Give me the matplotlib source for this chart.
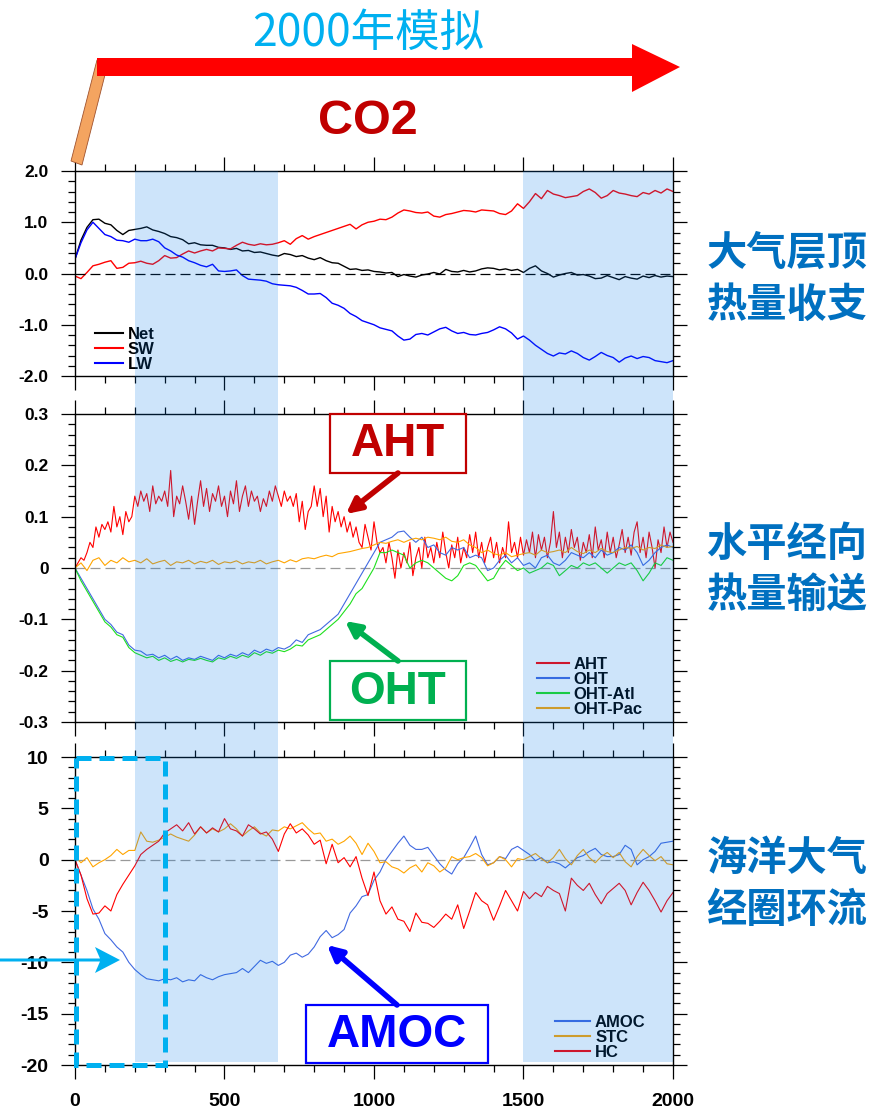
import numpy as np
import matplotlib
matplotlib.use('Agg')
import matplotlib.pyplot as plt
from matplotlib.patches import Rectangle, Polygon
from matplotlib.ticker import MultipleLocator

plt.rcParams['font.family'] = ['Liberation Sans', 'DejaVu Sans']

# %%
# Data (20-year steps, AHT in 10-year steps)
# --------------------------------------------------------------
yr20 = np.arange(0, 2001, 20)
yr10 = np.arange(0, 2001, 10)

net = [0.28, 0.65, 0.90, 1.05, 1.06, 0.98, 0.95, 0.84, 0.76, 0.84,
       0.86, 0.88, 0.91, 0.85, 0.82, 0.78, 0.72, 0.70, 0.66, 0.58,
       0.60, 0.56, 0.55, 0.55, 0.51, 0.50, 0.47, 0.49, 0.44, 0.45,
       0.41, 0.42, 0.39, 0.36, 0.34, 0.39, 0.37, 0.33, 0.35, 0.30,
       0.27, 0.31, 0.25, 0.21, 0.20, 0.14, 0.08, 0.09, 0.06, 0.07,
       0.04, 0.03, 0.01, 0.02, -0.06, -0.02, -0.05, -0.07, -0.03, -0.01,
       0.02, -0.01, 0.08, 0.04, 0.03, 0.06, 0.03, 0.05, 0.09, 0.11,
       0.10, 0.07, 0.09, 0.06, 0.08, 0.02, 0.10, 0.15, 0.05, 0.00,
       -0.07, -0.03, 0.00, 0.02, -0.03, -0.02, -0.05, -0.10, -0.09, -0.04,
       -0.08, -0.12, -0.06, -0.09, -0.11, -0.05, -0.08, -0.04, -0.07, -0.05,
       -0.06]
sw = [-0.05, -0.10, 0.02, 0.15, 0.18, 0.22, 0.25, 0.10, 0.12, 0.20,
      0.21, 0.24, 0.20, 0.18, 0.25, 0.35, 0.30, 0.31, 0.38, 0.44,
      0.40, 0.44, 0.47, 0.44, 0.50, 0.49, 0.48, 0.55, 0.61, 0.57,
      0.55, 0.58, 0.56, 0.57, 0.60, 0.64, 0.57, 0.68, 0.74, 0.67,
      0.72, 0.76, 0.80, 0.84, 0.88, 0.92, 0.96, 0.87, 0.95, 1.00,
      1.02, 1.06, 1.05, 1.10, 1.18, 1.24, 1.22, 1.19, 1.18, 1.20,
      1.12, 1.10, 1.15, 1.17, 1.20, 1.23, 1.22, 1.20, 1.24, 1.23,
      1.22, 1.17, 1.15, 1.22, 1.36, 1.27, 1.40, 1.56, 1.46, 1.62,
      1.55, 1.52, 1.48, 1.50, 1.52, 1.60, 1.65, 1.58, 1.47, 1.52,
      1.62, 1.57, 1.55, 1.52, 1.50, 1.58, 1.55, 1.62, 1.57, 1.65,
      1.60]
lw_flux = [0.28, 0.60, 0.85, 1.00, 0.88, 0.76, 0.72, 0.65, 0.64, 0.61,
           0.67, 0.64, 0.64, 0.67, 0.62, 0.50, 0.44, 0.36, 0.32, 0.25,
           0.21, 0.16, 0.13, 0.18, 0.05, 0.04, 0.05, 0.07, -0.04, -0.11,
           -0.12, -0.13, -0.15, -0.20, -0.22, -0.23, -0.24, -0.27, -0.33, -0.40,
           -0.40, -0.39, -0.47, -0.58, -0.62, -0.68, -0.78, -0.84, -0.92, -0.96,
           -1.00, -1.06, -1.09, -1.12, -1.22, -1.30, -1.28, -1.19, -1.17, -1.20,
           -1.14, -1.08, -1.05, -1.12, -1.17, -1.15, -1.19, -1.20, -1.17, -1.15,
           -1.10, -1.04, -1.08, -1.16, -1.28, -1.22, -1.30, -1.40, -1.48, -1.56,
           -1.61, -1.55, -1.57, -1.51, -1.56, -1.64, -1.69, -1.62, -1.54, -1.60,
           -1.64, -1.73, -1.65, -1.61, -1.66, -1.62, -1.64, -1.70, -1.72, -1.74,
           -1.70]

aht = [0.0, 0.01, 0.02, 0.015, 0.03, 0.05, 0.04, 0.08, 0.06, 0.085,
       0.075, 0.09, 0.07, 0.12, 0.08, 0.10, 0.065, 0.11, 0.09, 0.10,
       0.14, 0.12, 0.15, 0.13, 0.145, 0.11, 0.16, 0.125, 0.14, 0.13,
       0.15, 0.12, 0.19, 0.10, 0.14, 0.125, 0.16, 0.13, 0.095, 0.14,
       0.085, 0.13, 0.17, 0.12, 0.155, 0.11, 0.145, 0.13, 0.16, 0.12,
       0.14, 0.10, 0.15, 0.125, 0.17, 0.11, 0.14, 0.16, 0.12, 0.15,
       0.13, 0.14, 0.11, 0.135, 0.12, 0.15, 0.13, 0.16, 0.14, 0.12,
       0.15, 0.13, 0.14, 0.12, 0.145, 0.09, 0.13, 0.075, 0.11, 0.12,
       0.16, 0.12, 0.155, 0.10, 0.14, 0.07, 0.12, 0.09, 0.11, 0.08,
       0.10, 0.07, 0.09, 0.06, 0.08, 0.05, 0.04, 0.085, 0.06, 0.035,
       0.09, 0.05, 0.03, 0.04, 0.01, 0.05, 0.02, -0.02, 0.035, 0.0,
       0.03, 0.01, 0.05, -0.015, 0.02, 0.04, 0.0, 0.06, 0.02, 0.04,
       0.01, 0.05, 0.02, 0.07, 0.03, 0.0, 0.045, 0.02, 0.06, 0.01,
       0.04, 0.02, 0.065, 0.03, 0.07, 0.02, 0.05, 0.01, 0.04, 0.06,
       0.02, 0.05, 0.01, 0.04, 0.02, 0.09, 0.03, 0.05, 0.02, 0.06,
       0.025, 0.055, 0.03, 0.07, 0.02, 0.065, 0.035, 0.06, 0.02, 0.05,
       0.11, 0.04, 0.07, 0.02, 0.06, 0.03, 0.075, 0.04, 0.06, 0.015,
       0.05, 0.03, 0.065, 0.02, 0.08, 0.035, 0.055, 0.02, 0.07, 0.03,
       0.06, 0.02, 0.045, 0.075, 0.03, 0.06, 0.025, 0.07, 0.09, 0.03,
       0.06, 0.02, 0.07, 0.04, 0.0, 0.055, 0.03, 0.08, 0.04, 0.07,
       0.05]
oht = [0.0, -0.02, -0.04, -0.06, -0.08, -0.10, -0.11, -0.125, -0.13, -0.15,
       -0.16, -0.162, -0.17, -0.168, -0.175, -0.17, -0.178, -0.172, -0.18, -0.175,
       -0.178, -0.172, -0.176, -0.18, -0.17, -0.175, -0.168, -0.172, -0.165, -0.17,
       -0.16, -0.165, -0.158, -0.162, -0.155, -0.158, -0.152, -0.14, -0.145, -0.13,
       -0.125, -0.12, -0.11, -0.10, -0.09, -0.07, -0.05, -0.03, -0.01, 0.01,
       0.03, 0.05, 0.055, 0.06, 0.07, 0.072, 0.06, 0.05, 0.06, 0.04,
       0.045, 0.03, 0.025, 0.04, 0.035, 0.04, 0.02, 0.025, 0.02, -0.005,
       0.0, 0.015, 0.025, 0.01, 0.02, 0.005, 0.01, 0.0, 0.02, 0.025,
       0.01, 0.005, 0.015, 0.03, 0.025, 0.02, 0.03, 0.02, 0.035, 0.025,
       0.03, 0.04, 0.035, 0.045, 0.03, 0.005, 0.015, 0.03, 0.04, 0.045,
       0.04]
oht_atl = [0.0, -0.025, -0.045, -0.065, -0.085, -0.105, -0.115, -0.13, -0.135, -0.155,
           -0.165, -0.17, -0.175, -0.172, -0.18, -0.175, -0.182, -0.178, -0.183, -0.178,
           -0.18, -0.176, -0.18, -0.183, -0.175, -0.178, -0.172, -0.176, -0.17, -0.174,
           -0.165, -0.17, -0.163, -0.166, -0.16, -0.163, -0.158, -0.15, -0.152, -0.14,
           -0.135, -0.13, -0.12, -0.11, -0.10, -0.085, -0.07, -0.05, -0.04, -0.02,
           0.0, 0.03, 0.03, 0.035, 0.03, 0.025, 0.0, 0.01, 0.015, 0.01,
           0.0, -0.01, -0.02, -0.025, -0.015, 0.005, 0.01, 0.005, -0.01, -0.025,
           -0.02, 0.0, 0.015, 0.005, -0.005, 0.0, -0.01, -0.005, 0.0, 0.01,
           0.005, -0.015, -0.005, 0.005, 0.0, 0.01, 0.005, 0.01, 0.0, -0.01,
           0.0, 0.01, 0.005, 0.01, -0.005, -0.025, -0.01, 0.01, 0.005, 0.02,
           0.015]
oht_pac = [0.0, 0.01, -0.005, 0.015, 0.02, 0.005, 0.015, 0.01, 0.02, 0.012,
           0.015, 0.01, 0.018, 0.008, 0.012, 0.015, 0.005, 0.012, 0.01, 0.015,
           0.008, 0.013, 0.01, 0.015, 0.007, 0.012, 0.01, 0.014, 0.008, 0.012,
           0.01, 0.015, 0.008, 0.012, 0.015, 0.01, 0.016, 0.012, 0.018, 0.02,
           0.018, 0.022, 0.025, 0.022, 0.028, 0.03, 0.032, 0.035, 0.038, 0.04,
           0.045, 0.05, 0.048, 0.052, 0.055, 0.05, 0.055, 0.058, 0.055, 0.06,
           0.058, 0.055, 0.06, 0.052, 0.05, 0.055, 0.045, 0.04, 0.03, 0.035,
           0.028, 0.025, 0.03, 0.022, 0.025, 0.028, 0.03, 0.025, 0.035, 0.03,
           0.032, 0.035, 0.03, 0.04, 0.032, 0.028, 0.035, 0.03, 0.038, 0.032,
           0.03, 0.035, 0.04, 0.038, 0.042, 0.035, 0.04, 0.038, 0.045, 0.04,
           0.042]

amoc = [0.0, -1.5, -3.0, -4.8, -5.8, -7.2, -7.8, -8.5, -9.0, -10.0,
        -10.7, -11.2, -11.6, -11.7, -11.8, -11.6, -11.7, -11.5, -11.9, -11.7,
        -11.8, -11.2, -11.5, -11.7, -11.4, -11.2, -11.1, -11.0, -10.6, -11.0,
        -10.4, -9.8, -10.1, -9.9, -10.3, -10.0, -9.3, -9.1, -9.5, -9.2,
        -8.5, -7.5, -6.9, -7.6, -7.3, -6.8, -5.2, -4.5, -3.6, -3.4,
        -2.0, -1.2, 0.0, 0.8, 1.6, 2.3, 1.4, 1.0, 1.0, 1.2,
        0.4, -0.4, -1.0, -1.4, -0.4, 0.2, 1.2, 2.3, 0.5, -0.5,
        -0.3, 0.3, 0.1, 1.0, 1.3, 0.9, 0.5, -0.1, 0.2, -0.3,
        -0.2, -0.4, -0.8, -0.3, 0.2, 0.4, 0.8, 1.1, 0.5, 0.3,
        0.3, 0.5, 1.4, 1.0, -0.5, 0.0, 0.3, 0.8, 1.6, 1.7,
        1.8]
stc = [0.3, -0.3, 0.2, -0.7, -0.3, 0.0, 0.4, 1.0, 0.5, 0.9,
       0.9, 2.7, 1.8, 1.7, 1.9, 2.2, 2.5, 2.2, 2.0, 1.8,
       2.4, 3.2, 2.6, 3.0, 2.7, 3.0, 3.5, 3.0, 2.3, 2.8,
       3.2, 2.6, 2.3, 2.9, 2.8, 3.2, 3.0, 3.3, 3.6, 3.0,
       2.5, 2.6, 1.8, 2.0, 1.5, 1.8, 2.3, 1.6, 0.5, 1.6,
       0.8, -0.3, -0.2, -0.7, -0.9, -1.3, -0.8, -0.5, -1.2, -0.3,
       -0.6, -1.2, -0.8, 0.3, 0.0, 0.2, 0.3, 0.6, 0.2, -0.6,
       -0.3, 0.3, 0.0, -0.7, 0.1, 0.0, 0.3, 0.6, 0.1, -0.3,
       0.2, 1.0, 0.1, -0.5, 0.4, 1.0, 0.2, -0.3, 0.3, 0.7,
       0.2, 0.7, -0.2, -0.7, 0.3, 1.0, 0.4, -0.1, 0.3, -0.4,
       -0.5]
hc = [0.0, -1.5, -3.8, -5.3, -5.2, -4.5, -5.0, -3.4, -2.4, -1.5,
      -0.6, 0.5, 1.0, 1.4, 1.8, 2.6, 3.0, 3.4, 2.8, 3.6,
      2.5, 3.2, 2.6, 3.1, 2.7, 4.0, 3.0, 2.8, 2.3, 3.4,
      3.0, 2.5, 2.7, 2.0, 0.8, 2.5, 3.5, 2.6, 3.0, 2.4,
      1.5, 1.9, -0.4, 1.5, -0.3, 0.2, -0.7, 0.3, -1.8, -3.5,
      -1.2, -4.0, -5.3, -4.6, -5.8, -6.0, -7.0, -5.2, -6.1, -6.2,
      -6.6, -6.0, -5.3, -5.8, -4.4, -6.7, -5.0, -3.2, -4.0, -4.4,
      -5.9, -4.5, -3.0, -4.0, -5.0, -3.1, -3.8, -3.2, -3.6, -2.6,
      -3.0, -3.3, -5.0, -1.8, -2.5, -3.0, -2.3, -3.4, -4.3, -3.3,
      -2.8, -2.3, -3.0, -4.4, -3.2, -2.2, -3.0, -4.0, -5.1, -4.0,
      -3.2]

shade_spans = [(200, 680), (1500, 2000)]

# %%
# Figure and panels (positions in pixels of the 878x1114 canvas)
# --------------------------------------------------------------
W, H = 878, 1114
fig = plt.figure(figsize=(W / 100, H / 100), dpi=100)


def ax_px(x0, y0, x1, y1):
    return fig.add_axes([x0 / W, 1 - y1 / H, (x1 - x0) / W, (y1 - y0) / H])


def style(ax, lo, hi, labels, minor, fs):
    ax.set_xlim(0, 2000)
    ax.set_ylim(lo, hi)
    ax.set_xticks([0, 500, 1000, 1500, 2000])
    ax.xaxis.set_minor_locator(MultipleLocator(100))
    ax.set_yticks(np.linspace(lo, hi, len(labels)), labels)
    ax.yaxis.set_minor_locator(MultipleLocator(minor))
    ax.tick_params(which='both', direction='out', top=True, right=True,
                   width=0.9, labelsize=fs, pad=9, labelbottom=False)
    ax.tick_params(which='major', length=10)
    ax.tick_params(which='minor', length=5)
    for s in ax.spines.values():
        s.set_linewidth(1.0)
    for lab in ax.get_yticklabels():
        lab.set_fontweight('bold')


def legend(ax, x, y, hl):
    leg = ax.legend(loc='lower left', bbox_to_anchor=(x, y), frameon=False,
                    handlelength=hl, handletextpad=0.3, labelspacing=0.0,
                    borderpad=0.1, borderaxespad=0.0,
                    prop=dict(weight='bold', size=12))
    for ln in leg.get_lines():
        ln.set_linewidth(1.5)


# Panel 1: TOA heat budget
ax1 = ax_px(75, 171, 673, 376)
ax1.plot(yr20, net, color='black', lw=1.0, label='Net')
ax1.plot(yr20, sw, color='#ff0000', lw=1.0, label='SW')
ax1.plot(yr20, lw_flux, color='#0000ff', lw=1.0, label='LW')
ax1.axhline(0, color='black', lw=0.9, ls=(0, (8, 4)))
style(ax1, -2, 2, ['-2.0', '-1.0', '0.0', '1.0', '2.0'], 0.2, 12.5)
legend(ax1, 0.03, 0.01, 1.7)

# Panel 2: meridional heat transport
ax2 = ax_px(75, 414, 673, 722)
ax2.plot(yr10, aht, color='#ff0000', lw=0.8, label='AHT')
ax2.plot(yr20, oht, color='#4169e1', lw=0.8, label='OHT')
ax2.plot(yr20, oht_atl, color='#1ee01e', lw=0.8, label='OHT-Atl')
ax2.plot(yr20, oht_pac, color='#ffa500', lw=0.8, label='OHT-Pac')
ax2.axhline(0, color='#999999', lw=0.9, ls=(0, (8, 4)), zorder=0)
style(ax2, -0.3, 0.3, ['-0.3', '-0.2', '-0.1', '0', '0.1', '0.2', '0.3'], 0.02, 12.5)
legend(ax2, 0.77, 0.012, 1.9)

# Panel 3: ocean / atmosphere circulation
ax3 = ax_px(75, 757, 673, 1065)
ax3.plot(yr20, amoc, color='#4169e1', lw=0.8, label='AMOC')
ax3.plot(yr20, stc, color='#ffa500', lw=0.8, label='STC')
ax3.plot(yr20, hc, color='#ff0000', lw=0.8, label='HC')
ax3.axhline(0, color='#999999', lw=0.9, ls=(0, (8, 4)), zorder=0)
style(ax3, -20, 10, ['-20', '-15', '-10', '-5', '0', '5', '10'], 1, 14)
ax3.tick_params(axis='x', labelbottom=True, labelsize=14, pad=10)
for lab in ax3.get_xticklabels():
    lab.set_fontweight('bold')
legend(ax3, 0.80, 0.012, 2.1)

# %%
# Overlay in pixel coordinates: shading, arrows, boxes and labels
# --------------------------------------------------------------
ov = fig.add_axes([0, 0, 1, 1], zorder=10)
ov.set_xlim(0, W)
ov.set_ylim(H, 0)
ov.set_axis_off()
ov.patch.set_visible(False)

for x_a, x_b in shade_spans:
    px_a = ax1.transData.transform((x_a, 0))[0]
    px_b = ax1.transData.transform((x_b, 0))[0]
    ov.add_patch(Rectangle((px_a, 171), px_b - px_a, 1062 - 171,
                           facecolor='#0578e6', alpha=0.2, lw=0))

# CO2 forcing arrow
ov.add_patch(Polygon([(71, 161), (82, 165), (108, 63), (97, 60)],
                     facecolor='#f4a460', edgecolor='#a0522d', lw=0.6))
ov.add_patch(Polygon([(97, 58), (632, 58), (632, 44), (680, 67),
                      (632, 92), (632, 76), (97, 76)],
                     facecolor='#ff0000', edgecolor='none'))
ov.text(368, 33, '2000年模拟', fontsize=32, color='#00b0f0',
        family=['Noto Sans CJK SC', 'DejaVu Sans'], ha='center', va='center')
ov.text(368, 121, 'CO2', fontsize=35, color='#c00000', weight='bold',
        ha='center', va='center')

# right-hand titles
cjk = ['Noto Sans CJK SC', 'DejaVu Sans']
for txt, y in [('大气层顶', 253), ('热量收支', 305), ('水平经向', 544),
               ('热量输送', 595), ('海洋大气', 858), ('经圈环流', 910)]:
    ov.text(787, y, txt, fontsize=29, color='#0070c0', weight='bold',
            family=cjk, ha='center', va='center')

# labelled boxes with arrows
boxes = [('AHT', 330, 414, 466, 473, '#c00000', (398, 473), (346, 514)),
         ('OHT', 330, 661, 466, 720, '#00b050', (398, 661), (345, 621)),
         ('AMOC', 306, 1005, 488, 1063, '#0000ff', (397, 1005), (327, 945))]
for txt, x0, y0, x1, y1, c, tail, head in boxes:
    ov.add_patch(Rectangle((x0, y0), x1 - x0, y1 - y0, facecolor='white',
                           edgecolor=c, lw=1.6))
    ov.text((x0 + x1) / 2, (y0 + y1) / 2 + 1, txt, fontsize=33, color=c,
            weight='bold', ha='center', va='center')
    ov.annotate('', xy=head, xytext=tail,
                arrowprops=dict(arrowstyle='-|>', color=c, lw=4,
                                mutation_scale=22, shrinkA=0, shrinkB=0))

# dashed highlight of the first 300 years and the side arrow
ov.add_patch(Rectangle((76, 758), 165 - 76, 1065 - 758, facecolor='none',
                       edgecolor='#00b0f0', lw=3.6, ls=(0, (3, 1.6))))
ov.add_patch(Polygon([(0, 958.5), (100, 958.5), (95, 947), (120, 960),
                      (95, 973), (100, 961.5), (0, 961.5)],
                     facecolor='#00b0f0', edgecolor='none'))

fig.savefig('out.png', dpi=100)
